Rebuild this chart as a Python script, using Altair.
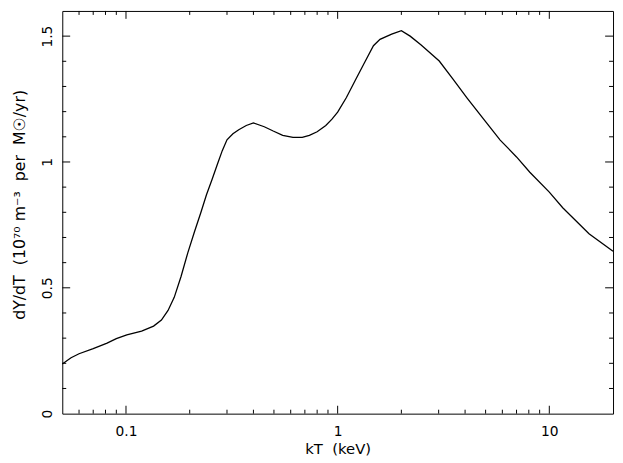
import altair as alt
import pandas as pd

# Curve (kT in keV, dY/dT)
kT = [0.05, 0.055, 0.060, 0.070, 0.0814, 0.090, 0.1009, 0.1185, 0.135, 0.147,
      0.158, 0.169, 0.182, 0.196, 0.211, 0.226, 0.240, 0.255, 0.270, 0.285, 0.300,
      0.320, 0.341, 0.370, 0.400, 0.450, 0.496, 0.550, 0.615, 0.680, 0.735, 0.800,
      0.879, 0.940, 1.000, 1.10, 1.21, 1.35, 1.476, 1.585, 1.80, 2.00, 2.20, 2.48,
      3.02, 3.50, 4.09, 5.00, 5.86, 7.00, 8.09, 10.0, 11.57, 15.4, 20.0]
dYdT = [0.197, 0.222, 0.238, 0.258, 0.280, 0.298, 0.313, 0.328, 0.348, 0.372,
        0.410, 0.462, 0.545, 0.640, 0.725, 0.800, 0.870, 0.930, 0.990, 1.045, 1.088,
        1.112, 1.128, 1.145, 1.155, 1.140, 1.123, 1.106, 1.098, 1.098, 1.106, 1.120,
        1.145, 1.170, 1.198, 1.256, 1.324, 1.400, 1.462, 1.487, 1.508, 1.522, 1.500, 1.465,
        1.401, 1.330, 1.254, 1.160, 1.087, 1.020, 0.959, 0.880, 0.818, 0.715, 0.645]

x_labels = [0.1, 1, 10]
y_labels = [0, 0.5, 1, 1.5]
x_major = [0.1, 1, 10]
x_minor = [0.06, 0.07, 0.08, 0.09, 0.2, 0.3, 0.4, 0.5, 0.6, 0.7, 0.8, 0.9,
           2, 3, 4, 5, 6, 7, 8, 9]
y_major = [0.5, 1.0, 1.5]
y_minor = [0.1, 0.2, 0.3, 0.4, 0.6, 0.7, 0.8, 0.9, 1.1, 1.2, 1.3, 1.4]

W, H = 558, 408
FONT = "DejaVu Sans"

xs = alt.Scale(type="log", domain=[0.05, 20], nice=False)
ys = alt.Scale(domain=[0, 1.6], nice=False, zero=False)

curve = alt.Chart(pd.DataFrame({"kT": kT, "dYdT": dYdT})).mark_line(
    color="black", strokeWidth=1.3, interpolate="linear"
).encode(
    x=alt.X("kT:Q", scale=xs, axis=alt.Axis(
        values=x_labels, format="~g", ticks=False, tickSize=0, domain=False, grid=False,
        labelFont=FONT, labelFontSize=14, labelColor="black", labelPadding=11,
        labelBaseline="top", labelFlush=False,
        title="kT\u00a0\u00a0(keV)", titleFont=FONT, titleFontSize=15,
        titleFontWeight="normal", titleColor="black", titleY=40,
        titleBaseline="alphabetic")),
    y=alt.Y("dYdT:Q", scale=ys, axis=alt.Axis(
        values=y_labels, format="~g", ticks=False, tickSize=0, domain=False, grid=False,
        labelFont=FONT, labelFontSize=14, labelColor="black", labelPadding=10.5,
        labelAngle=270, labelAlign="center", labelBaseline="alphabetic", labelFlush=False,
        title="dY/dT\u00a0\u00a0(10\u2077\u2070\u00a0m\u207b\u00b3\u00a0\u00a0per\u00a0\u00a0M\u2609/yr)",
        titleFont=FONT, titleFontSize=16, titleFontWeight="normal", titleColor="black",
        titleAngle=270, titleAlign="center", titleBaseline="alphabetic",
        titleX=-38, titleY=196)),
)


def xticks(vals, length, top):
    y0 = 0 if top else H
    y1 = length if top else H - length
    return alt.Chart(pd.DataFrame({"v": vals})).mark_rule(color="black", strokeWidth=1).encode(
        x=alt.X("v:Q", scale=xs, axis=None),
        y=alt.value(y0), y2=alt.value(y1))


def yticks(vals, length, right):
    x0 = W if right else 0
    x1 = W - length if right else length
    return alt.Chart(pd.DataFrame({"v": vals})).mark_rule(color="black", strokeWidth=1).encode(
        y=alt.Y("v:Q", scale=ys, axis=None),
        x=alt.value(x0), x2=alt.value(x1))


chart = alt.layer(
    curve,
    xticks(x_major, 8, False), xticks(x_minor, 4, False),
    xticks(x_major, 8, True), xticks(x_minor, 4, True),
    yticks(y_major, 8, False), yticks(y_minor, 4, False),
    yticks(y_major, 8, True), yticks(y_minor, 4, True),
).resolve_axis(
    x="independent", y="independent"
).properties(
    width=W, height=H,
    autosize=alt.AutoSizeParams(type="none"),
    padding={"left": 55, "top": 0, "right": 2, "bottom": 47},
    background="white",
).configure_view(stroke="black", strokeWidth=1)

chart.save("out.html", embed_options={"renderer": "svg", "actions": False})
